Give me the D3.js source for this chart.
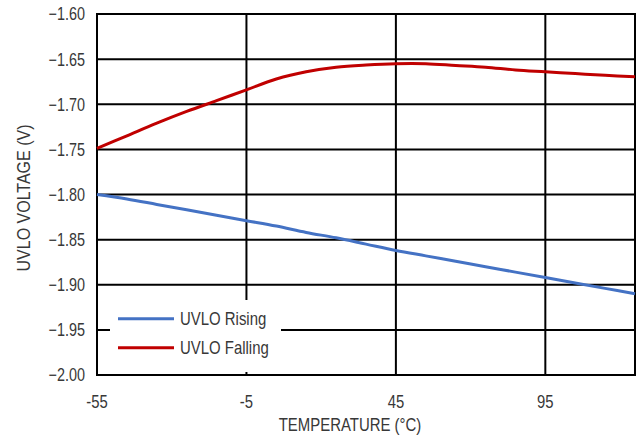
<!DOCTYPE html>
<html>
<head>
<meta charset="utf-8">
<script src="https://cdn.jsdelivr.net/npm/d3@7"></script>
<style>
  html, body { margin: 0; padding: 0; background: #fff; }
  svg { display: block; }
  text { font-family: "Liberation Sans", Arial, sans-serif; fill: #383838; }
</style>
</head>
<body>
<svg id="chart" width="640" height="437"></svg>
<script>
// ---- data ----
const temperatures = [-55, -45, -35, -25, -15, -5, 5, 15, 25, 35, 45, 55, 65, 75, 85, 95, 105, 115, 125];
const uvloRising  = [-1.800, -1.805, -1.811, -1.817, -1.823, -1.829, -1.835, -1.842, -1.848, -1.855, -1.862, -1.868, -1.874, -1.880, -1.886, -1.892, -1.898, -1.904, -1.910];
const uvloFalling = [-1.749, -1.735, -1.721, -1.708, -1.696, -1.684, -1.672, -1.664, -1.659, -1.6565, -1.655, -1.655, -1.657, -1.659, -1.662, -1.664, -1.666, -1.668, -1.6695];
const xTicks = [-55, -5, 45, 95];
const yTicks = [-1.60, -1.65, -1.70, -1.75, -1.80, -1.85, -1.90, -1.95, -2.00];
const seriesNames = ["UVLO Rising", "UVLO Falling"];
const seriesColors = ["#4472C4", "#C00000"];

// ---- layout ----
const svg = d3.select("#chart");
const L = 97, R = 635, T = 14, B = 375;
const x = d3.scaleLinear().domain([-55, 125]).range([L, R]);
const y = d3.scaleLinear().domain([-2.00, -1.60]).range([B, T]);

// horizontal gridlines
svg.append("g").selectAll("line").data(yTicks).join("line")
  .attr("x1", L).attr("x2", R)
  .attr("y1", d => y(d)).attr("y2", d => y(d))
  .attr("stroke", "#000").attr("stroke-width", 2);

// vertical gridlines
svg.append("g").selectAll("line").data(xTicks).join("line")
  .attr("x1", d => x(d)).attr("x2", d => x(d))
  .attr("y1", T).attr("y2", B)
  .attr("stroke", "#000").attr("stroke-width", 2);

// frame
svg.append("rect").attr("x", L).attr("y", T).attr("width", R - L).attr("height", B - T)
  .attr("fill", "none").attr("stroke", "#000").attr("stroke-width", 2);

// y tick labels
svg.append("g").selectAll("text").data(yTicks).join("text")
  .attr("transform", d => `translate(85,${y(d)}) scale(0.8,1)`)
  .attr("text-anchor", "end").attr("dy", "0.36em")
  .style("font-size", "18px")
  .text(d => d3.format(".2f")(d));

// x tick labels
svg.append("g").selectAll("text").data(xTicks).join("text")
  .attr("transform", d => `translate(${x(d)},401) scale(0.78,1)`)
  .attr("text-anchor", "middle").attr("dy", "0.36em")
  .style("font-size", "19px")
  .text(d => d);

// axis titles
svg.append("text")
  .attr("transform", "translate(350,425) scale(0.83,1)")
  .attr("text-anchor", "middle").attr("dy", "0.36em")
  .style("font-size", "18px")
  .text("TEMPERATURE (°C)");

svg.append("text")
  .attr("transform", "translate(23.5,198) rotate(-90) scale(0.89,1)")
  .attr("text-anchor", "middle").attr("dy", "0.36em")
  .style("font-size", "18px")
  .text("UVLO VOLTAGE (V)");

// series
const line = d3.line()
  .x((d, i) => x(temperatures[i]))
  .y(d => y(d))
  .curve(d3.curveCatmullRom.alpha(0.5));

[uvloRising, uvloFalling].forEach((vals, k) => {
  svg.append("path").datum(vals)
    .attr("d", line)
    .attr("fill", "none")
    .attr("stroke", seriesColors[k])
    .attr("stroke-width", 3)
    .attr("stroke-linejoin", "round");
});

// legend
const lg = svg.append("g");
lg.append("rect").attr("x", 110).attr("y", 300).attr("width", 171).attr("height", 72).attr("fill", "#fff");
seriesNames.forEach((name, k) => {
  const ly = 318.7 + k * 29;
  lg.append("line").attr("x1", 118).attr("x2", 174).attr("y1", ly).attr("y2", ly)
    .attr("stroke", seriesColors[k]).attr("stroke-width", 3);
  lg.append("text")
    .attr("transform", `translate(180,${ly}) scale(0.83,1)`)
    .attr("dy", "0.36em")
    .style("font-size", "18px")
    .text(name);
});
</script>
</body>
</html>
